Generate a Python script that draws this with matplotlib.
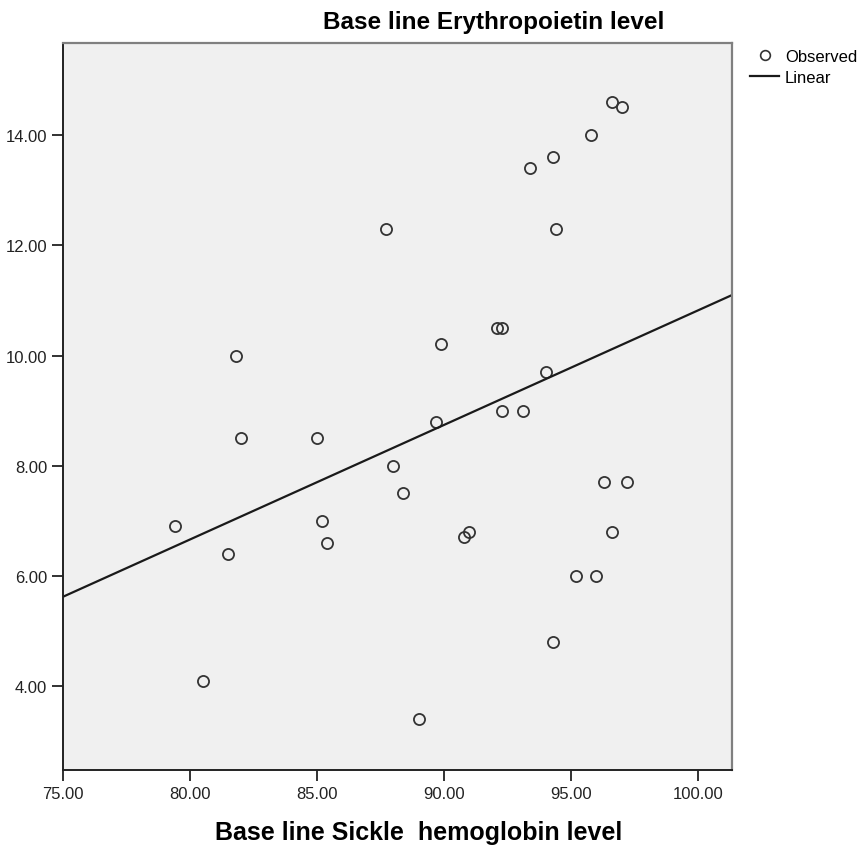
import numpy as np
from matplotlib import pyplot as plt
from matplotlib.lines import Line2D

# baseline sickle hemoglobin (%) vs baseline erythropoietin
hbs = [96.6, 97.0, 95.8, 94.3, 93.4, 94.4, 87.7, 92.1, 92.3, 81.8,
       89.9, 94.0, 92.3, 93.1, 89.7, 82.0, 85.0, 88.0, 88.4, 96.3,
       97.2, 85.2, 85.4, 90.8, 91.0, 96.6, 79.4, 81.5, 95.2, 96.0,
       94.3, 80.5, 89.0]
epo = [14.6, 14.5, 14.0, 13.6, 13.4, 12.3, 12.3, 10.5, 10.5, 10.0,
       10.2, 9.7, 9.0, 9.0, 8.8, 8.5, 8.5, 8.0, 7.5, 7.7,
       7.7, 7.0, 6.6, 6.7, 6.8, 6.8, 6.9, 6.4, 6.0, 6.0,
       4.8, 4.1, 3.4]

x_ticks = [75, 80, 85, 90, 95, 100]
y_ticks = [4, 6, 8, 10, 12, 14]
x_lim = (75, 101.34)
y_lim = (2.48, 15.67)

plt.rcParams['font.family'] = ['Liberation Sans', 'DejaVu Sans']

fig = plt.figure(figsize=(8.6, 8.54), dpi=100)
ax = fig.add_axes([63/860, 1 - 771/854, (732-63)/860, (771-44)/854])
ax.set_facecolor('#f0f0f0')

ax.plot(hbs, epo, linestyle='none', marker='o', ms=8, mfc='none',
        mec='#333333', mew=1.3)

# linear fit across the full x range
slope, icpt = np.polyfit(hbs, epo, 1)
xs = np.array(x_lim)
ax.plot(xs, icpt + slope * xs, color='#1a1a1a', lw=1.6)

ax.set_xlim(x_lim)
ax.set_ylim(y_lim)
ax.set_xticks(x_ticks)
ax.set_yticks(y_ticks)
ax.set_xticklabels(['%.2f' % v for v in x_ticks])
ax.set_yticklabels(['%.2f' % v for v in y_ticks])
ax.tick_params(length=8, width=1.3, labelsize=12, colors='#222222')

for s in ['left', 'bottom']:
    ax.spines[s].set_color('#222222')
    ax.spines[s].set_linewidth(1.4)
for s in ['top', 'right']:
    ax.spines[s].set_color('#808080')
    ax.spines[s].set_linewidth(1.6)

fig.text(494/860, 1 - 22/854, 'Base line Erythropoietin level', ha='center',
         va='center', fontsize=17.5, fontweight='bold')
fig.text(419/860, 1 - 833/854, 'Base line Sickle  hemoglobin level', ha='center',
         va='center', fontsize=18, fontweight='bold')

handles = [Line2D([], [], linestyle='none', marker='o', ms=7, mfc='none',
                  mec='#333333', mew=1.2),
           Line2D([], [], color='#1a1a1a', lw=1.6)]
fig.legend(handles, ['Observed', 'Linear'], loc='upper left',
           bbox_to_anchor=(750/860, 1 - 50/854), frameon=False, fontsize=12,
           handlelength=1.75, handletextpad=0.35, labelspacing=0.35,
           borderaxespad=0, borderpad=0)

plt.savefig('out.png', dpi=100)
